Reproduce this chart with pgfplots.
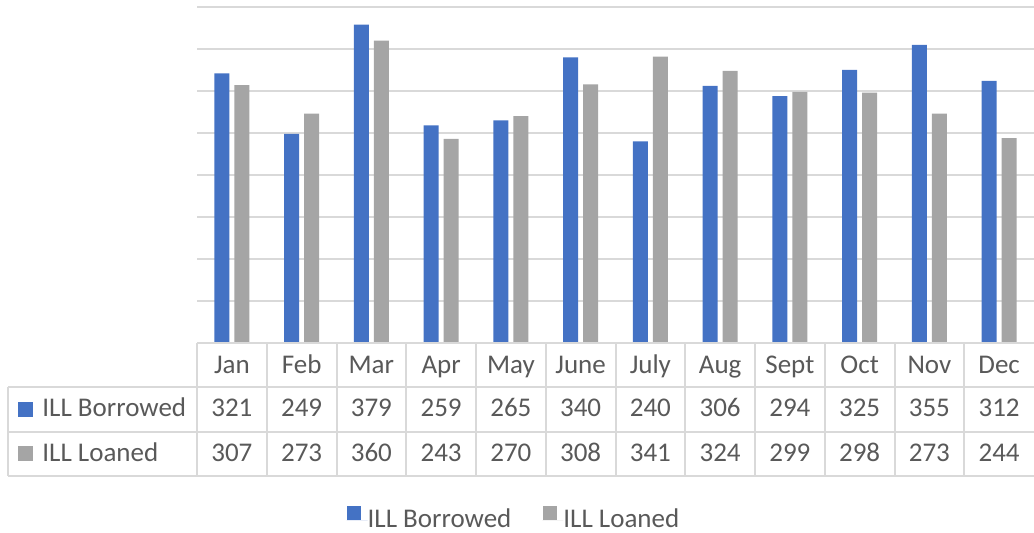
\documentclass[border=0pt]{standalone}
\usepackage{pgfplots}
\pgfplotsset{compat=1.18}
\usepackage{pgfplotstable}
\usepackage{fontspec}
\setmainfont{Carlito}
\definecolor{cblue}{HTML}{4472C4}
\definecolor{cgray}{HTML}{A5A5A5}
\definecolor{tgray}{HTML}{595959}
\definecolor{lgray}{HTML}{D9D9D9}
\pgfplotstableread{
x month b l
0 Jan 321 307
1 Feb 249 273
2 Mar 379 360
3 Apr 259 243
4 May 265 270
5 June 340 308
6 July 240 341
7 Aug 306 324
8 Sept 294 299
9 Oct 325 298
10 Nov 355 273
11 Dec 312 244
}\data
\begin{document}
\fontsize{13.5}{16}\selectfont
\begin{tikzpicture}
\path[use as bounding box] (0pt,-95pt) rectangle (517pt,171.5pt);
\begin{axis}[
  at={(98.5pt,0pt)}, anchor=south west,
  scale only axis, width=418.5pt, height=168pt,
  xmin=-0.5, xmax=11.5, ymin=0, ymax=400,
  clip=false,
  axis line style={draw=none},
  xtick=\empty,
  ytick={0,50,...,400}, yticklabels={}, major tick length=0pt,
  ymajorgrids, grid style={draw=lgray, line width=1pt},
  legend style={at={(0.3775,-0.524)}, anchor=center, draw=none, fill=none,
    legend columns=2, text=tgray, inner sep=0pt,
    /tikz/every even column/.append style={column sep=15.5pt},
    nodes={inner sep=0pt}},
  legend cell align=left,
]
\addplot[ybar, bar width=7.5pt, bar shift=-5pt, fill=cblue, draw=none,
  legend image code/.code={\path (0pt,0pt) -- (10.5pt,0pt); \node[fill=cblue, draw=none, inner sep=0pt, minimum width=7pt, minimum height=7pt, anchor=south west] at (0pt,0pt) {};}]
  table[x=x, y=b]{\data};
\addlegendentry{ILL Borrowed}
\addplot[ybar, bar width=7.5pt, bar shift=5pt, fill=cgray, draw=none,
  legend image code/.code={\path (0pt,0pt) -- (10.5pt,0pt); \node[fill=cgray, draw=none, inner sep=0pt, minimum width=7pt, minimum height=7pt, anchor=south west] at (0pt,0pt) {};}]
  table[x=x, y=l]{\data};
\addlegendentry{ILL Loaned}
\addplot[draw=none, mark=none, forget plot, nodes near coords, point meta=explicit symbolic,
  every node near coord/.append style={anchor=base, yshift=-15.5pt, text=tgray, inner sep=0pt}]
  table[x=x, y expr=0, meta=month]{\data};
\addplot[draw=none, mark=none, forget plot, nodes near coords, point meta=explicit symbolic,
  every node near coord/.append style={anchor=base, yshift=-37pt, text=tgray, inner sep=0pt}]
  table[x=x, y expr=0, meta=b]{\data};
\addplot[draw=none, mark=none, forget plot, nodes near coords, point meta=explicit symbolic,
  every node near coord/.append style={anchor=base, yshift=-59.5pt, text=tgray, inner sep=0pt}]
  table[x=x, y expr=0, meta=l]{\data};
\end{axis}
% data table grid
\begin{scope}[draw=lgray, line width=1pt]
\draw (98.5pt,0pt) -- (517pt,0pt);
\draw (4pt,-22pt) -- (517pt,-22pt);
\draw (4pt,-44.5pt) -- (517pt,-44.5pt);
\draw (4pt,-66.5pt) -- (517pt,-66.5pt);
\draw (4pt,-22pt) -- (4pt,-66.5pt);
\foreach \k in {0,...,11} {\draw ({98.5pt+\k*34.875pt},0pt) -- ({98.5pt+\k*34.875pt},-66.5pt);}
\end{scope}
\fill[cblue] (9pt,-37pt) rectangle (16.5pt,-29.5pt);
\fill[cgray] (9pt,-59pt) rectangle (16.5pt,-51.5pt);
\node[anchor=base west, inner sep=0pt, text=tgray] at (21pt,-37pt) {ILL Borrowed};
\node[anchor=base west, inner sep=0pt, text=tgray] at (21pt,-59.5pt) {ILL Loaned};
\end{tikzpicture}
\end{document}
